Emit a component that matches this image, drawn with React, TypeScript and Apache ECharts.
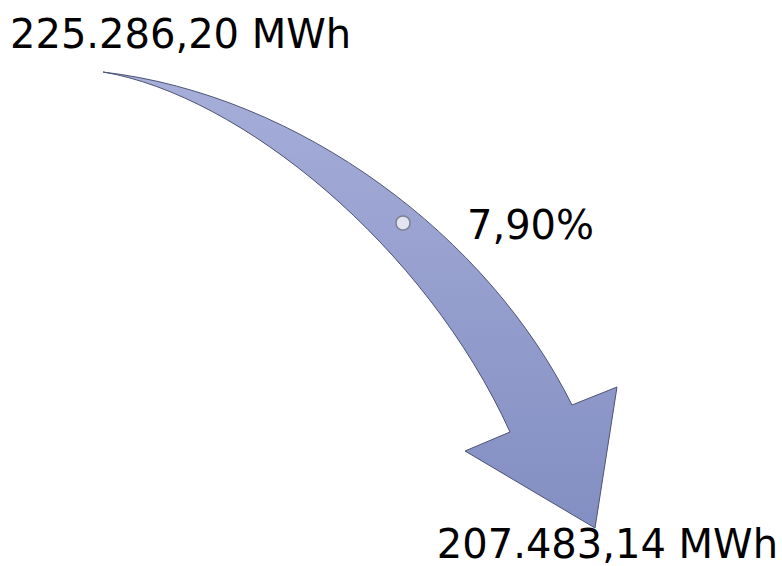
import React, { useEffect, useRef } from "react";
import * as echarts from "echarts";

// Data
const labels = ["Start", "End"];
const valuesMWh = [225286.2, 207483.14];
const unit = "MWh";

function fmtDE(v: number, digits: number): string {
  const fixed = v.toFixed(digits);
  const [intPart, dec] = fixed.split(".");
  const withDots = intPart.replace(/\B(?=(\d{3})+(?!\d))/g, ".");
  return dec ? `${withDots},${dec}` : withDots;
}

const arrowPath =
  "M103 72 C300 95 488 236 572 405 L617 387 L595 528 L465 451 L510 432 C425 245 240 95 103 72 Z";

echarts.graphic.registerShape("curvedArrow", echarts.graphic.extendPath(arrowPath, {}) as any);

export default function App() {
  const ref = useRef<HTMLDivElement>(null);
  useEffect(() => {
    if (!ref.current) return;
    const chart = echarts.init(ref.current, null, { renderer: "svg" });
    const pct = ((valuesMWh[0] - valuesMWh[1]) / valuesMWh[0]) * 100;
    const font = "DejaVu Sans";
    chart.setOption({
      animation: false,
      backgroundColor: "#ffffff",
      graphic: [
        {
          type: "curvedArrow",
          x: 0,
          y: 0,
          style: {
            fill: new echarts.graphic.LinearGradient(0, 0, 0, 1, [
              { offset: 0, color: "#a6aed9" },
              { offset: 1, color: "#838ec2" },
            ]),
            stroke: "#4d5373",
            lineWidth: 1,
          },
        },
        {
          type: "circle",
          shape: { cx: 403, cy: 223, r: 7 },
          style: { fill: "#e2e4f1", stroke: "#7c7f90", lineWidth: 1.5 },
        },
        {
          type: "text",
          x: 10,
          y: 34,
          style: {
            text: `${fmtDE(valuesMWh[0], 2)} ${unit}`,
            fontFamily: font,
            fontSize: 40,
            fill: "#000000",
            align: "left",
            verticalAlign: "middle",
          },
        },
        {
          type: "text",
          x: 778,
          y: 544,
          style: {
            text: `${fmtDE(valuesMWh[1], 2)} ${unit}`,
            fontFamily: font,
            fontSize: 40,
            fill: "#000000",
            align: "right",
            verticalAlign: "middle",
          },
        },
        {
          type: "text",
          x: 467,
          y: 225,
          style: {
            text: `${fmtDE(pct, 2)}%`,
            fontFamily: font,
            fontSize: 40,
            fill: "#000000",
            align: "left",
            verticalAlign: "middle",
          },
        },
      ],
    });
    return () => chart.dispose();
  }, []);
  return (
    <div
      ref={ref}
      data-labels={labels.join(",")}
      style={{ position: "fixed", left: 0, top: 0, width: 782, height: 566 }}
    />
  );
}
